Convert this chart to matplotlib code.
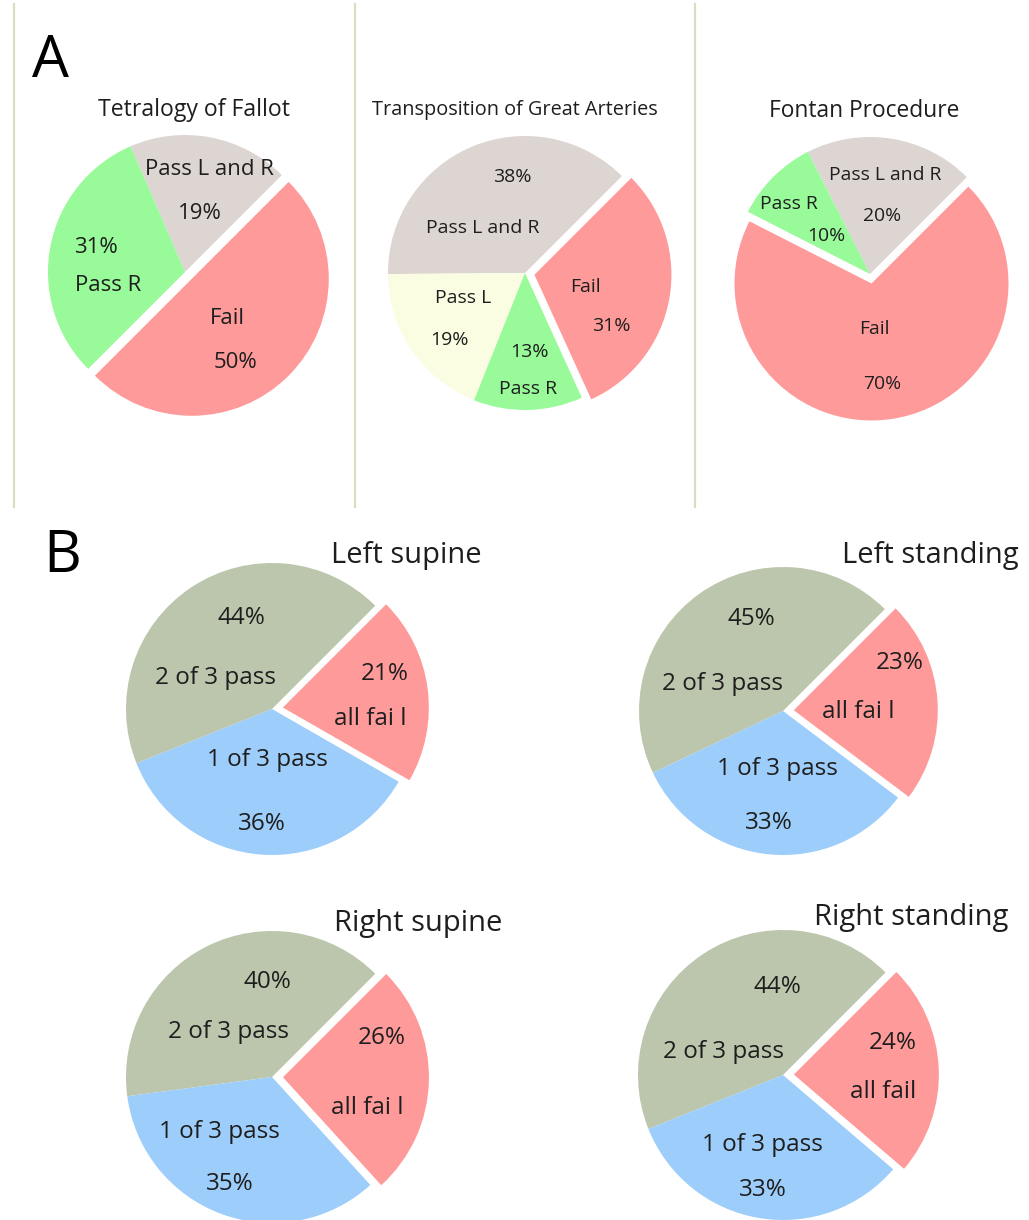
import matplotlib
matplotlib.use('Agg')
import matplotlib.pyplot as plt
from matplotlib.lines import Line2D

plt.rcParams['font.family'] = ['Open Sans', 'DejaVu Sans']

W, H = 1029, 1220

# Panel A: auditory results per diagnosis group
a_titles = ['Tetralogy of Fallot', 'Transposition of Great Arteries', 'Fontan Procedure']
a_labels = [
    ['Pass L and R', 'Pass R', 'Fail'],
    ['Pass L and R', 'Pass L', 'Pass R', 'Fail'],
    ['Pass L and R', 'Pass R', 'Fail'],
]
a_values = [
    [19, 31, 50],
    [38, 19, 13, 31],
    [20, 10, 70],
]

# Panel B: results by side and posture
b_titles = ['Left supine', 'Left standing', 'Right supine', 'Right standing']
b_labels = ['2 of 3 pass', '1 of 3 pass', 'all fail']
b_values = [
    [44, 36, 21],
    [45, 33, 23],
    [40, 35, 26],
    [44, 33, 24],
]
b_fail_text = ['all fai l', 'all fai l', 'all fai l', 'all fail']

a_colors = {'Pass L and R': '#ddd5d2', 'Pass L': '#fafde2',
            'Pass R': '#98fa98', 'Fail': '#ff9a9a'}
b_colors = ['#bcc6ac', '#9dcdfa', '#ff9a9a']
txt_col = '#1e1e1e'

# pie centres / radii in pixels
a_geom = [(185, 272, 137), (525, 273, 137), (870, 274, 137)]
b_geom = [(272, 709, 146), (783, 711, 144), (272, 1077, 146), (783, 1075, 145)]

# text positions (name, pct) in radius units from pie centre
a_text_pos = [
    [((0.18, 0.75), (0.11, 0.43)), ((-0.56, -0.10), (-0.65, 0.18)), ((0.31, -0.34), (0.37, -0.66))],
    [((-0.31, 0.33), (-0.09, 0.70)), ((-0.45, -0.18), (-0.55, -0.49)),
     ((0.02, -0.85), (0.03, -0.58)), ((0.44, -0.10), (0.63, -0.39))],
    [((0.11, 0.72), (0.09, 0.42)), ((-0.59, 0.51), (-0.32, 0.28)), ((0.03, -0.40), (0.09, -0.80))],
]
a_text_size = [16, 14, 13.9]
a_title_pos = [(194, 110), (515, 110), (864, 111)]
a_title_size = [16.6, 14.3, 16.4]

b_text_pos = [
    [((-0.39, 0.21), (-0.21, 0.62)), ((-0.03, -0.35), (-0.07, -0.79)), ((0.67, -0.07), (0.77, 0.24))],
    [((-0.42, 0.19), (-0.22, 0.64)), ((-0.04, -0.40), (-0.10, -0.78)), ((0.52, -0.01), (0.81, 0.33))],
    [((-0.30, 0.31), (-0.03, 0.65)), ((-0.36, -0.38), (-0.29, -0.73)), ((0.65, -0.21), (0.75, 0.27))],
    [((-0.41, 0.16), (-0.04, 0.61)), ((-0.14, -0.48), (-0.14, -0.79)), ((0.69, -0.12), (0.76, 0.22))],
]
b_title_pos = [(406, 556), (930, 555), (418, 923), (911, 918)]

fig = plt.figure(figsize=(W / 100, H / 100), dpi=100)


def pie_axes(cx, cy, r, s=1.35):
    ax = fig.add_axes([(cx - s * r) / W, (H - cy - s * r) / H, 2 * s * r / W, 2 * s * r / H])
    ax.set_axis_off()
    return ax, s


def fx(x):
    return x / W


def fy(y):
    return 1 - y / H


# Panel A
for i in range(3):
    cx, cy, r = a_geom[i]
    ax, s = pie_axes(cx, cy, r)
    labels = a_labels[i]
    explode = [0.07 if lab == 'Fail' else 0 for lab in labels]
    ax.pie(a_values[i], colors=[a_colors[l] for l in labels], startangle=45,
           counterclock=True, explode=explode, wedgeprops=dict(linewidth=0))
    ax.set_xlim(-s, s)
    ax.set_ylim(-s, s)
    fs = a_text_size[i]
    for lab, val, (p1, p2) in zip(labels, a_values[i], a_text_pos[i]):
        ax.text(*p1, lab, ha='center', va='center', fontsize=fs, color=txt_col)
        ax.text(*p2, f'{val}%', ha='center', va='center', fontsize=fs, color=txt_col)
    tx, ty = a_title_pos[i]
    fig.text(fx(tx), fy(ty), a_titles[i], ha='center', va='center',
             fontsize=a_title_size[i], color=txt_col)

# separators between the panel A groups
for x in (14, 355, 695):
    fig.add_artist(Line2D([fx(x), fx(x)], [fy(4), fy(507)], color='#dcdcc2', lw=1.6))

# Panel B
for i in range(4):
    cx, cy, r = b_geom[i]
    ax, s = pie_axes(cx, cy, r)
    ax.pie(b_values[i], colors=b_colors, startangle=45, counterclock=True,
           explode=[0, 0, 0.075], wedgeprops=dict(linewidth=0))
    ax.set_xlim(-s, s)
    ax.set_ylim(-s, s)
    names = b_labels[:2] + [b_fail_text[i]]
    for lab, val, (p1, p2) in zip(names, b_values[i], b_text_pos[i]):
        ax.text(*p1, lab, ha='center', va='center', fontsize=17.5, color=txt_col)
        ax.text(*p2, f'{val}%', ha='center', va='center', fontsize=17.5, color=txt_col)
    tx, ty = b_title_pos[i]
    fig.text(fx(tx), fy(ty), b_titles[i], ha='center', va='center', fontsize=21, color=txt_col)

fig.text(fx(50), fy(62), 'A', ha='center', va='center', fontsize=42, color='black')
fig.text(fx(62), fy(557), 'B', ha='center', va='center', fontsize=42, color='black')

fig.savefig('out.png', dpi=100, facecolor='white')
